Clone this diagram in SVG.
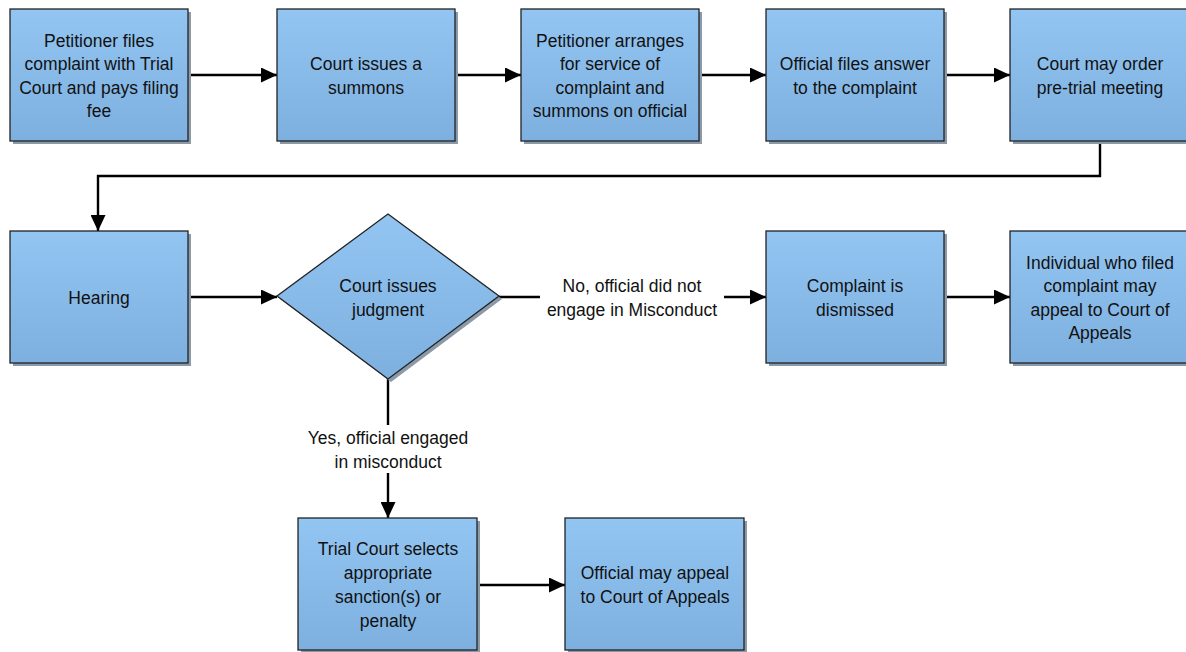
<svg xmlns="http://www.w3.org/2000/svg" width="1186" height="652" viewBox="0 0 1186 652">
<defs>
<linearGradient id="g" x1="0" y1="0" x2="0" y2="1">
<stop offset="0" stop-color="#93c5f3"/>
<stop offset="1" stop-color="#7eb0df"/>
</linearGradient>
<marker id="ah" markerWidth="16" markerHeight="15" refX="16" refY="7.5" orient="auto" markerUnits="userSpaceOnUse">
<path d="M0,0 L16,7.5 L0,15 Z" fill="#000"/>
</marker>
<style>
.box{fill:url(#g);stroke:#222;stroke-width:1.3}
.sh{fill:#8a9aa8}
.t{font-family:"Liberation Sans",Arial,sans-serif;font-size:17.5px;fill:#111;text-anchor:middle}
.c{stroke:#000;stroke-width:2.4;fill:none}
.lbl{fill:#fff}
</style>
</defs>
<rect width="1186" height="652" fill="#fff"/>
<g id="connectors">
<path class="c" d="M188,75 H277" marker-end="url(#ah)"/>
<path class="c" d="M455,75 H521" marker-end="url(#ah)"/>
<path class="c" d="M699,75 H766" marker-end="url(#ah)"/>
<path class="c" d="M944,75 H1010" marker-end="url(#ah)"/>
<path class="c" d="M1100,141 V176 H98 V231" marker-end="url(#ah)"/>
<path class="c" d="M188,297 H277" marker-end="url(#ah)"/>
<path class="c" d="M499,297 H766" marker-end="url(#ah)"/>
<path class="c" d="M944,297 H1010" marker-end="url(#ah)"/>
<path class="c" d="M388,379 V518" marker-end="url(#ah)"/>
<path class="c" d="M477,585 H565" marker-end="url(#ah)"/>
<rect class="lbl" x="540" y="274" width="184" height="48"/>
<text class="t" x="632" y="292">No, official did not</text>
<text class="t" x="632" y="316">engage in Misconduct</text>
<rect class="lbl" x="296" y="425" width="184" height="48"/>
<text class="t" x="388" y="444">Yes, official engaged</text>
<text class="t" x="388" y="468">in misconduct</text>
</g>
<g id="n1"><rect class="sh" x="13" y="12" width="178" height="132"/><rect class="box" x="10" y="9" width="178" height="132"/>
<text class="t" x="99" y="47">Petitioner files</text><text class="t" x="99" y="70">complaint with Trial</text><text class="t" x="99" y="94">Court and pays filing</text><text class="t" x="99" y="117">fee</text></g>
<g id="n2"><rect class="sh" x="280" y="12" width="178" height="132"/><rect class="box" x="277" y="9" width="178" height="132"/>
<text class="t" x="366" y="70">Court issues a</text><text class="t" x="366" y="94">summons</text></g>
<g id="n3"><rect class="sh" x="524" y="12" width="178" height="132"/><rect class="box" x="521" y="9" width="178" height="132"/>
<text class="t" x="610" y="47">Petitioner arranges</text><text class="t" x="610" y="70">for service of</text><text class="t" x="610" y="94">complaint and</text><text class="t" x="610" y="117">summons on official</text></g>
<g id="n4"><rect class="sh" x="769" y="12" width="178" height="132"/><rect class="box" x="766" y="9" width="178" height="132"/>
<text class="t" x="855" y="70">Official files answer</text><text class="t" x="855" y="94">to the complaint</text></g>
<g id="n5"><rect class="sh" x="1013" y="12" width="178" height="132"/><rect class="box" x="1010" y="9" width="178" height="132"/>
<text class="t" x="1100" y="70">Court may order</text><text class="t" x="1100" y="94">pre-trial meeting</text></g>
<g id="n6"><rect class="sh" x="13" y="234" width="178" height="132"/><rect class="box" x="10" y="231" width="178" height="132"/>
<text class="t" x="99" y="304">Hearing</text></g>
<g id="n7"><path class="sh" d="M391,217 L502,299 L391,382 L280,299 Z"/><path class="box" d="M388,214 L499,296 L388,379 L277,296 Z"/>
<text class="t" x="388" y="292">Court issues</text><text class="t" x="388" y="316">judgment</text></g>
<g id="n8"><rect class="sh" x="769" y="234" width="178" height="132"/><rect class="box" x="766" y="231" width="178" height="132"/>
<text class="t" x="855" y="292">Complaint is</text><text class="t" x="855" y="316">dismissed</text></g>
<g id="n9"><rect class="sh" x="1013" y="234" width="178" height="132"/><rect class="box" x="1010" y="231" width="178" height="132"/>
<text class="t" x="1100" y="269">Individual who filed</text><text class="t" x="1100" y="292">complaint may</text><text class="t" x="1100" y="316">appeal to Court of</text><text class="t" x="1100" y="339">Appeals</text></g>
<g id="n10"><rect class="sh" x="301" y="521" width="179" height="132"/><rect class="box" x="298" y="518" width="179" height="132"/>
<text class="t" x="388" y="555">Trial Court selects</text><text class="t" x="388" y="579">appropriate</text><text class="t" x="388" y="603">sanction(s) or</text><text class="t" x="388" y="627">penalty</text></g>
<g id="n11"><rect class="sh" x="568" y="521" width="179" height="132"/><rect class="box" x="565" y="518" width="179" height="132"/>
<text class="t" x="655" y="579">Official may appeal</text><text class="t" x="655" y="603">to Court of Appeals</text></g>
</svg>
